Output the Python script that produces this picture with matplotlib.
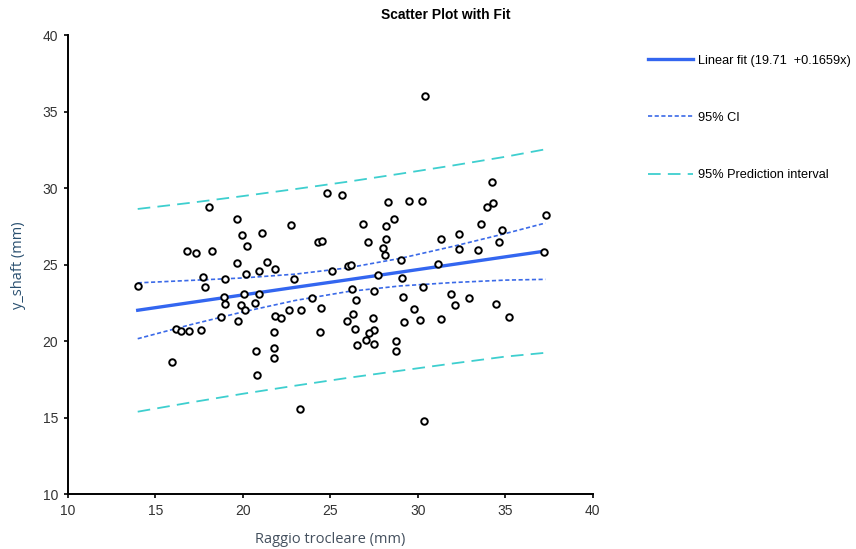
import numpy as np
import matplotlib
matplotlib.use("Agg")
import matplotlib.pyplot as plt

# 点データ (Raggio trocleare, y_shaft)
x_pts = [18.09, 19.67, 19.94, 21.09, 20.26, 16.80, 17.31, 18.25, 19.67, 21.37,
         21.86, 20.19, 20.93, 17.71, 18.99, 14.03, 17.86, 18.95, 20.07, 20.93,
         19.01, 19.89, 20.13, 20.69, 18.74, 19.73, 21.86, 16.17, 16.47, 16.95,
         17.63, 21.77, 21.81, 20.74, 21.81, 15.96, 20.82,
         24.83, 25.67, 28.30, 29.50, 30.22, 22.76, 26.89, 28.21, 28.63, 24.32,
         24.51, 27.18, 28.21, 28.03, 28.13, 29.06, 25.10, 26.03, 26.21, 22.95,
         27.73, 29.12, 30.31, 26.25, 27.52, 26.49, 23.96, 29.18, 29.81, 22.17,
         22.63, 23.31, 24.49, 26.29, 25.94, 27.43, 29.22, 30.13, 24.43, 26.43,
         27.49, 27.23, 27.03, 27.52, 26.53, 28.76, 28.76,
         34.26, 33.98, 34.29, 37.33, 33.62, 34.82, 32.38, 31.35, 34.66, 32.38,
         33.43, 37.23, 31.16, 31.90, 32.93, 32.13, 34.47, 31.35, 35.22,
         23.27, 30.34, 30.40]
y_pts = [28.80, 28.01, 26.95, 27.08, 26.21, 25.88, 25.75, 25.88, 25.12, 25.18,
         24.73, 24.38, 24.58, 24.22, 24.05, 23.59, 23.53, 22.88, 23.09, 23.09,
         22.44, 22.35, 22.07, 22.50, 21.57, 21.33, 21.67, 20.82, 20.69, 20.69,
         20.76, 20.59, 19.56, 19.35, 18.93, 18.65, 17.80,
         29.67, 29.54, 29.08, 29.15, 29.14, 27.62, 27.69, 27.56, 27.97, 26.49,
         26.54, 26.49, 26.67, 26.08, 25.64, 25.29, 24.61, 24.90, 24.97, 24.05,
         24.33, 24.12, 23.54, 23.42, 23.31, 22.68, 22.81, 22.92, 22.13, 21.50,
         22.07, 22.07, 22.18, 21.76, 21.33, 21.54, 21.26, 21.37, 20.59, 20.80,
         20.74, 20.52, 20.07, 19.80, 19.74, 20.02, 19.39,
         30.39, 28.80, 29.02, 28.24, 27.69, 27.27, 27.01, 26.67, 26.49, 26.03,
         25.97, 25.86, 25.05, 23.07, 22.85, 22.35, 22.46, 21.44, 21.61,
         15.58, 14.79, 36.01]

# 回帰直線とバンド
band_x = [14.0, 17.0, 20.0, 23.0, 26.0, 29.0, 32.0, 35.0, 37.3]
fit_y = [22.03, 22.53, 23.03, 23.53, 24.02, 24.52, 25.02, 25.52, 25.90]
ci_hi = [23.82, 23.98, 24.14, 24.39, 24.80, 25.42, 26.20, 27.04, 27.73]
ci_lo = [20.17, 21.08, 21.92, 22.67, 23.25, 23.62, 23.84, 24.00, 24.05]
pi_hi = [28.65, 29.05, 29.49, 29.95, 30.43, 30.95, 31.49, 32.06, 32.55]
pi_lo = [15.40, 16.00, 16.57, 17.10, 17.61, 18.08, 18.55, 19.00, 19.25]

fit_label = "Linear fit (19.71  +0.1659x)"

plt.rcParams['font.family'] = ['Liberation Sans', 'DejaVu Sans']

fig = plt.figure(figsize=(8.56, 5.49), dpi=100)
ax = fig.add_axes([0.0791, 0.0996, 0.6133, 0.8361])

ax.plot(band_x, fit_y, color='#3366f0', lw=2.4, label=fit_label, zorder=3)
ax.plot(band_x, ci_hi, color='#3b6ae8', lw=1.2, ls=(0, (2.5, 1.5)), label='95% CI', zorder=3)
ax.plot(band_x, ci_lo, color='#3b6ae8', lw=1.2, ls=(0, (2.5, 1.5)), zorder=3)
ax.plot(band_x, pi_hi, color='#3ecfcf', lw=1.3, ls=(0, (7, 4)), label='95% Prediction interval', zorder=3)
ax.plot(band_x, pi_lo, color='#3ecfcf', lw=1.3, ls=(0, (7, 4)), zorder=3)

ax.scatter(x_pts, y_pts, s=22, facecolors='white', edgecolors='black',
           linewidths=1.4, zorder=4)

ax.set_xlim(10, 40)
ax.set_ylim(10, 40)
ax.set_xticks([10, 15, 20, 25, 30, 35, 40])
ax.set_yticks([10, 15, 20, 25, 30, 35, 40])
for s in ['top', 'right']:
    ax.spines[s].set_visible(False)
for s in ['left', 'bottom']:
    ax.spines[s].set_linewidth(1.4)
ax.tick_params(direction='out', length=3, width=1.2, labelsize=10,
               labelcolor='#333333', pad=4)

ax.set_xlabel('Raggio trocleare (mm)', fontsize=10.5, color='#44505e',
              family=['Open Sans', 'DejaVu Sans'], labelpad=10)
ax.set_ylabel('y_shaft (mm)', fontsize=10.5, color='#2a5070',
              family=['Open Sans', 'DejaVu Sans'], labelpad=12)

fig.text(446 / 856, 1 - 15 / 549, 'Scatter Plot with Fit', ha='center', va='center',
         fontsize=10, fontweight='bold', color='black')

ax.legend(loc='upper left', bbox_to_anchor=(0.7515, 0.910), bbox_transform=fig.transFigure,
          frameon=False, fontsize=9.2, handlelength=3.5, handletextpad=0.4,
          labelspacing=3.55, borderaxespad=0)

fig.savefig('out.png', dpi=100)
